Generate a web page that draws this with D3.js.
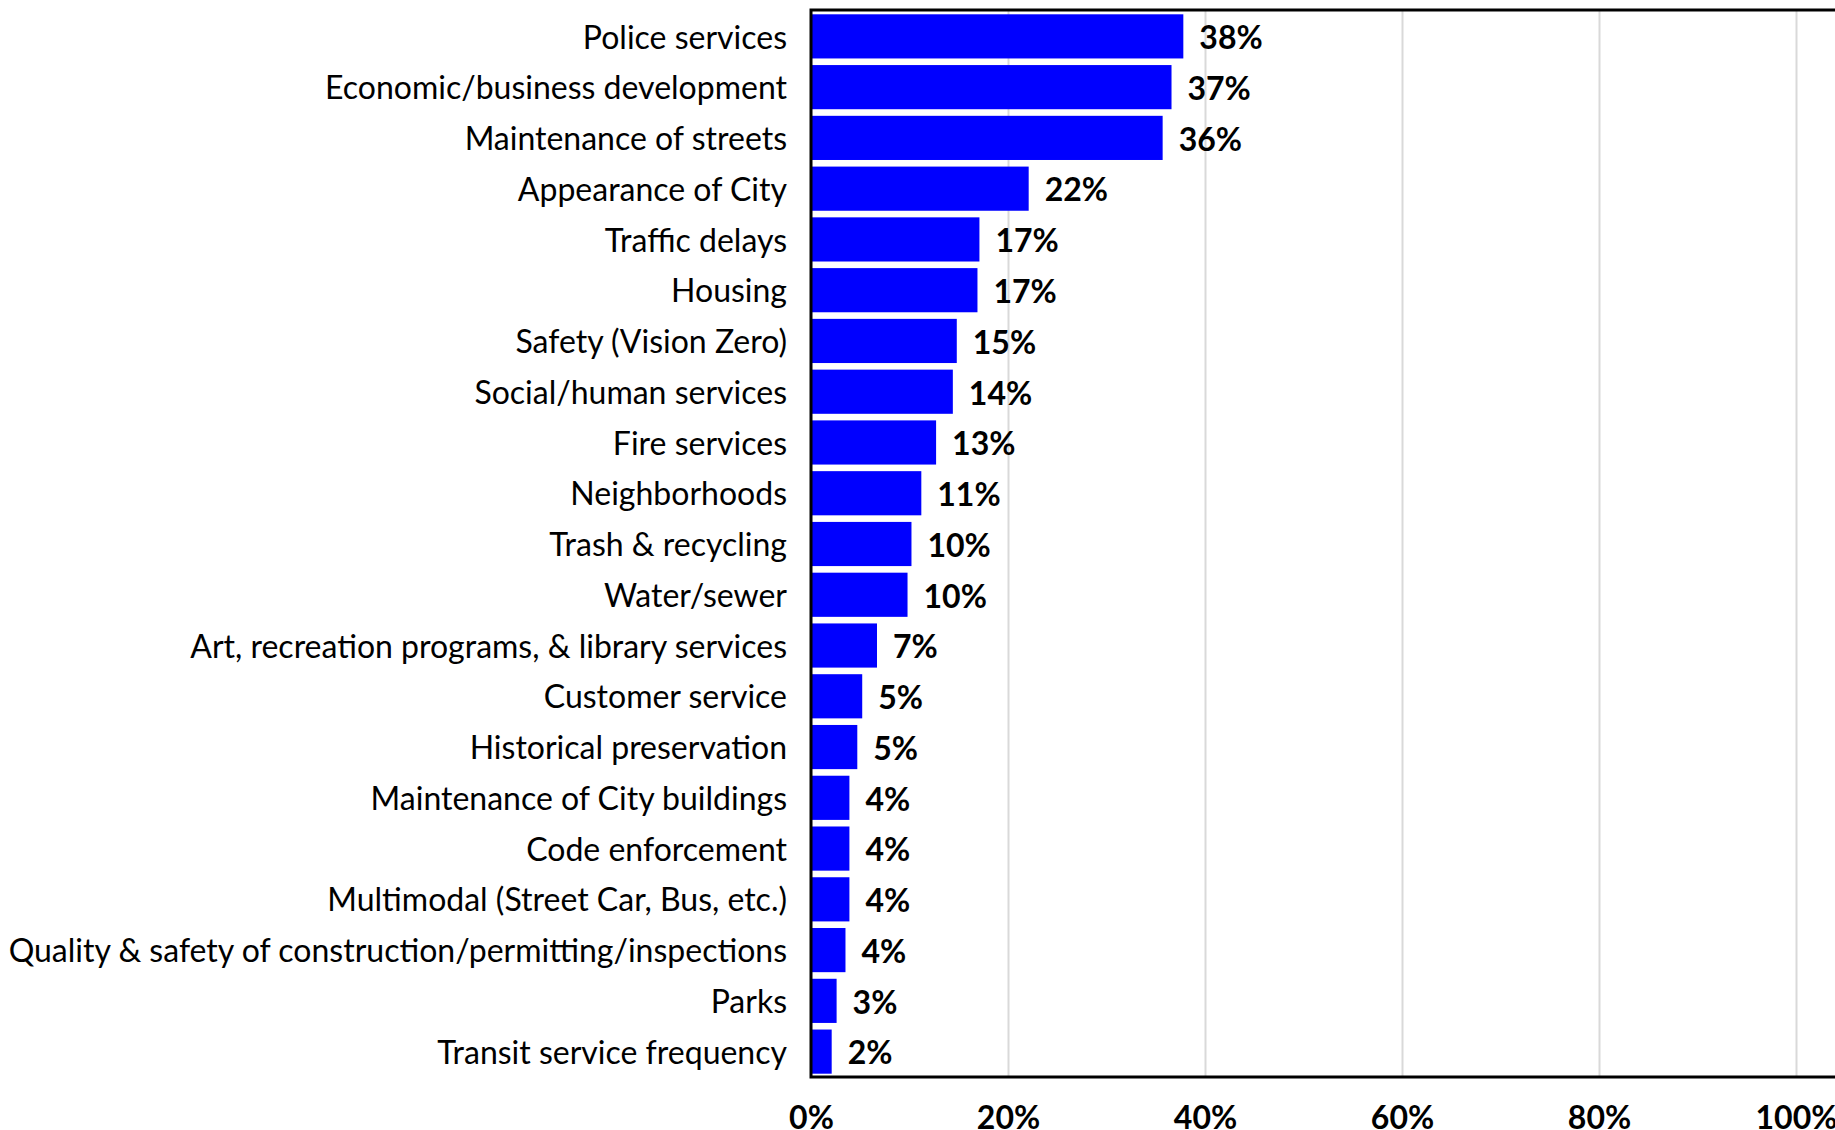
<!DOCTYPE html>
<html>
<head>
<meta charset="utf-8">
<script src="https://cdn.jsdelivr.net/npm/d3@7"></script>
<style>
  html, body { margin: 0; padding: 0; background: #fff; overflow: hidden; }
  svg { display: block; }
</style>
</head>
<body>
<svg id="chart" width="1835" height="1130"></svg>
<script>
// Share of respondents naming each service area (%)
const categories = [
  "Police services",
  "Economic/business development",
  "Maintenance of streets",
  "Appearance of City",
  "Traffic delays",
  "Housing",
  "Safety (Vision Zero)",
  "Social/human services",
  "Fire services",
  "Neighborhoods",
  "Trash & recycling",
  "Water/sewer",
  "Art, recreation programs, & library services",
  "Customer service",
  "Historical preservation",
  "Maintenance of City buildings",
  "Code enforcement",
  "Multimodal (Street Car, Bus, etc.)",
  "Quality & safety of construction/permitting/inspections",
  "Parks",
  "Transit service frequency"
];
const values = [37.8, 36.6, 35.7, 22.1, 17.1, 16.9, 14.8, 14.4, 12.7, 11.2, 10.2, 9.8, 6.7, 5.2, 4.7, 3.9, 3.9, 3.9, 3.5, 2.6, 2.1];
const xTicks = [0, 20, 40, 60, 80, 100];

const data = categories.map((c, i) => ({ category: c, value: values[i] }));

const svg = d3.select("#chart");
const W = 1835, H = 1130;
const plot = { left: 811, top: 10, bottom: 1077, right100: 1796 };

const x = d3.scaleLinear().domain([0, 100]).range([plot.left, plot.right100]);
const y = d3.scaleBand()
  .domain(categories)
  .range([plot.top + 1, plot.bottom])
  .paddingInner(0.13)
  .paddingOuter(0.065);

const fontFamily = "Lato, 'Open Sans', sans-serif";

// Vertical gridlines
const grid = svg.append("g")
  .attr("transform", `translate(0,${plot.bottom})`)
  .call(d3.axisBottom(x)
    .tickValues(xTicks.filter(t => t > 0))
    .tickSize(-(plot.bottom - plot.top))
    .tickFormat(""));
grid.select(".domain").remove();
grid.selectAll("line").attr("stroke", "#d9d9d9").attr("stroke-width", 2);

// Bars
svg.append("g")
  .selectAll("rect")
  .data(data)
  .join("rect")
  .attr("x", x(0))
  .attr("y", d => y(d.category))
  .attr("width", d => x(d.value) - x(0))
  .attr("height", y.bandwidth())
  .attr("fill", "#0000ff");

// Value labels
svg.append("g")
  .selectAll("text")
  .data(data)
  .join("text")
  .attr("x", d => x(d.value) + 16)
  .attr("y", d => y(d.category) + y.bandwidth() / 2)
  .attr("dy", "0.40em")
  .attr("font-family", fontFamily)
  .attr("font-weight", "bold")
  .attr("font-size", 32)
  .attr("fill", "#000")
  .text(d => Math.round(d.value) + "%");

// Category labels
svg.append("g")
  .selectAll("text")
  .data(data)
  .join("text")
  .attr("x", plot.left - 24)
  .attr("y", d => y(d.category) + y.bandwidth() / 2)
  .attr("dy", "0.38em")
  .attr("text-anchor", "end")
  .attr("font-family", fontFamily)
  .attr("font-size", 32)
  .attr("fill", "#000")
  .text(d => d.category);

// Plot frame: left, top and bottom edges
svg.append("rect")
  .attr("x", plot.left)
  .attr("y", plot.top)
  .attr("width", W + 20 - plot.left)
  .attr("height", plot.bottom - plot.top)
  .attr("fill", "none")
  .attr("stroke", "#000")
  .attr("stroke-width", 3);

// X axis tick labels
const xAxis = svg.append("g")
  .attr("transform", `translate(0,${plot.bottom})`)
  .call(d3.axisBottom(x)
    .tickValues(xTicks)
    .tickSize(0)
    .tickFormat(d => d + "%"));
xAxis.select(".domain").remove();
xAxis.selectAll("text")
  .attr("y", 29)
  .attr("dy", "0.71em")
  .attr("font-family", fontFamily)
  .attr("font-weight", "bold")
  .attr("font-size", 32)
  .attr("fill", "#000");
</script>
</body>
</html>
